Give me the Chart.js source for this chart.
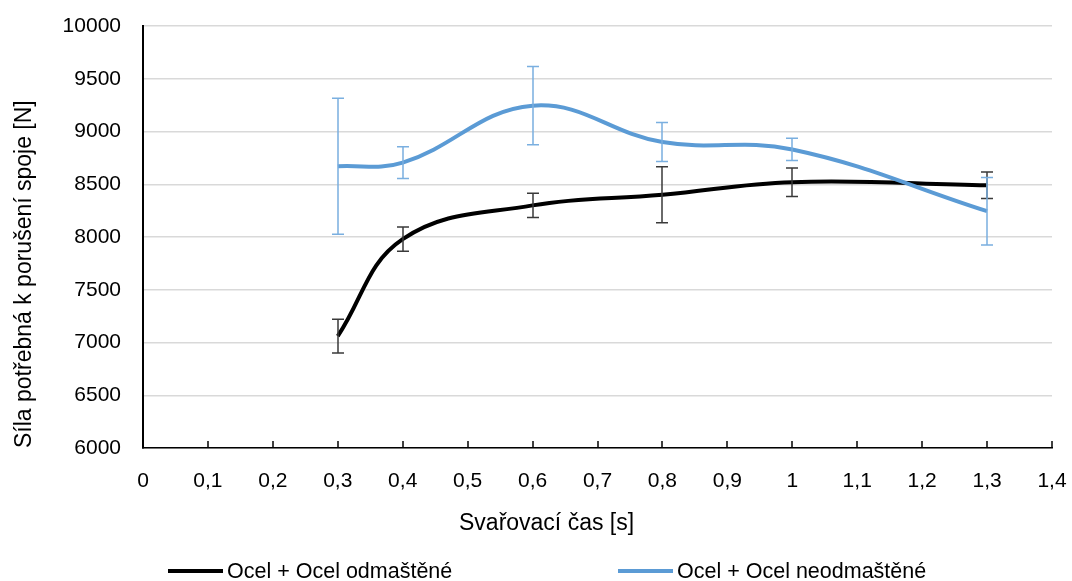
<!DOCTYPE html>
<html>
<head>
<meta charset="utf-8">
<script src="https://cdn.jsdelivr.net/npm/chart.js@4.4.1/dist/chart.umd.min.js"></script>
<style>
  html, body { margin: 0; padding: 0; background: #ffffff; overflow: hidden; }
  #wrap { position: relative; width: 1072px; height: 581px; font-family: "Liberation Sans", Arial, sans-serif; color: #000; }
  #chart { position: absolute; left: 0; top: 0; }
  .xtitle { position: absolute; left: 459px; top: 509px; font-size: 23px; line-height: 26px; white-space: nowrap; }
  .leg { position: absolute; top: 559px; height: 24px; display: flex; align-items: center; font-size: 21.5px; white-space: nowrap; }
  .leg .sw { width: 55px; height: 4px; margin-right: 4px; }
</style>
</head>
<body>
<div id="wrap">
  <canvas id="chart" width="1072" height="581"></canvas>
  <div class="xtitle" id="xtitle"></div>
  <div class="leg" id="leg0" style="left:168px"><span class="sw" style="background:#000000"></span><span class="tx"></span></div>
  <div class="leg" id="leg1" style="left:618px"><span class="sw" style="background:#5b9bd5"></span><span class="tx"></span></div>
</div>
<script>
// ---- data ----
const weldTimes = [0.3, 0.4, 0.6, 0.8, 1.0, 1.3];
const degreased = [7060, 7980, 8300, 8400, 8520, 8490];
const degreasedErr = [160, 115, 115, 265, 135, 125];
const notDegreased = [8670, 8705, 9245, 8900, 8830, 8245];
const notDegreasedErr = [645, 150, 370, 185, 105, 320];
const seriesNames = ["Ocel + Ocel odmaštěné", "Ocel + Ocel neodmaštěné"];
const xTitle = "Svařovací čas [s]";
const yTitle = "Síla potřebná k porušení spoje [N]";

const FONT = "'Liberation Sans', Arial, sans-serif";

document.getElementById('xtitle').textContent = xTitle;
document.querySelector('#leg0 .tx').textContent = seriesNames[0];
document.querySelector('#leg1 .tx').textContent = seriesNames[1];

const toPoints = (vals) => weldTimes.map((t, i) => ({ x: t, y: vals[i] }));

const errorBarPlugin = {
  id: 'errorBars',
  afterDatasetsDraw(chart) {
    const { ctx, scales: { x, y } } = chart;
    const order = [0, 1];
    order.forEach((di) => {
      const ds = chart.data.datasets[di];
      if (!ds.errors) return;
      ctx.save();
      ctx.strokeStyle = ds.errorColor;
      ctx.lineWidth = 1.5;
      ds.data.forEach((p, j) => {
        const px = Math.round(x.getPixelForValue(p.x));
        const yt = y.getPixelForValue(p.y + ds.errors[j]);
        const yb = y.getPixelForValue(p.y - ds.errors[j]);
        ctx.beginPath();
        ctx.moveTo(px, yt); ctx.lineTo(px, yb);
        ctx.moveTo(px - 6, yt); ctx.lineTo(px + 6, yt);
        ctx.moveTo(px - 6, yb); ctx.lineTo(px + 6, yb);
        ctx.stroke();
      });
      ctx.restore();
    });
  },
  afterDraw(chart) {
    const { ctx, scales: { x } } = chart;
    ctx.save();
    ctx.strokeStyle = '#000';
    ctx.lineWidth = 1.5;
    x.ticks.forEach((t, i) => {
      const px = Math.round(x.getPixelForTick(i));
      ctx.beginPath();
      ctx.moveTo(px, x.top);
      ctx.lineTo(px, x.top - 7);
      ctx.stroke();
    });
    ctx.restore();
  }
};

new Chart(document.getElementById('chart'), {
  type: 'line',
  data: {
    datasets: [
      {
        label: seriesNames[0],
        data: toPoints(degreased),
        errors: degreasedErr,
        errorColor: '#3a3a3a',
        borderColor: '#000000',
        backgroundColor: '#000000',
        borderWidth: 4,
        pointRadius: 0,
        tension: 0.4,
        order: 1
      },
      {
        label: seriesNames[1],
        data: toPoints(notDegreased),
        errors: notDegreasedErr,
        errorColor: '#7aafe0',
        borderColor: '#5b9bd5',
        backgroundColor: '#5b9bd5',
        borderWidth: 4,
        pointRadius: 0,
        tension: 0.4,
        order: 0
      }
    ]
  },
  options: {
    responsive: false,
    devicePixelRatio: 1,
    animation: false,
    layout: { padding: { left: 0, top: 26, right: 20, bottom: 0 } },
    plugins: { legend: { display: false }, tooltip: { enabled: false } },
    scales: {
      x: {
        type: 'linear',
        min: 0, max: 1.4,
        ticks: {
          stepSize: 0.1,
          padding: 13,
          color: '#000',
          font: { family: FONT, size: 21 },
          maxRotation: 0,
          autoSkip: false,
          callback: (v) => String(Math.round(v * 10) / 10).replace('.', ',')
        },
        grid: { display: false },
        border: { display: true, color: '#000', width: 1.5 },
        afterFit: (s) => { s.height = 133; s.paddingLeft = 0; s.paddingRight = 0; }
      },
      y: {
        min: 6000, max: 10000,
        ticks: {
          stepSize: 500,
          padding: 22,
          color: '#000',
          font: { family: FONT, size: 21 },
          callback: (v) => String(v)
        },
        grid: { color: '#d9d9d9', lineWidth: 1.5, drawTicks: false },
        border: { display: true, color: '#000', width: 2 },
        title: {
          display: true,
          text: yTitle,
          align: 'start',
          color: '#000',
          font: { family: FONT, size: 23 },
          padding: { top: 11, bottom: 0 }
        },
        afterFit: (s) => { s.width = 143; s.paddingTop = 0; s.paddingBottom = 0; }
      }
    }
  },
  plugins: [errorBarPlugin]
});
</script>
</body>
</html>
